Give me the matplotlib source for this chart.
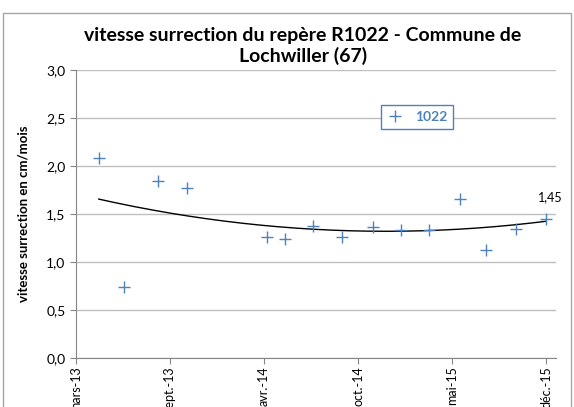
import numpy as np
import pandas as pd
import matplotlib
matplotlib.use('Agg')
from matplotlib import pyplot as plt
from matplotlib.patches import Rectangle
from matplotlib.ticker import FixedLocator, FuncFormatter
import matplotlib.dates as mdates

plt.rcParams['font.family'] = ['Lato', 'DejaVu Sans']

dates = pd.to_datetime(['2013-05-03', '2013-06-25', '2013-09-04', '2013-11-04',
                        '2014-04-22', '2014-05-31', '2014-07-29', '2014-09-28',
                        '2014-12-01', '2015-01-30', '2015-03-29', '2015-06-02',
                        '2015-07-28', '2015-09-28', '2015-12-01'])
speeds = [2.08, 0.74, 1.84, 1.77, 1.26, 1.24, 1.37, 1.26,
          1.36, 1.33, 1.33, 1.66, 1.13, 1.34, 1.45]
tick_labels = ['mars-13', 'sept.-13', 'avr.-14', 'oct.-14', 'mai-15', 'déc.-15']
y_ticks = [0.0, 0.5, 1.0, 1.5, 2.0, 2.5, 3.0]

blue = '#4F81BD'
grid_grey = '#BFBFBF'

x = mdates.date2num(dates)
axis_start = mdates.date2num(pd.Timestamp('2013-03-16'))
step = 198
tick_pos = [axis_start + i * step for i in range(len(tick_labels))]

fig = plt.figure(figsize=(5.74, 4.07), dpi=100)
fig.patches.append(Rectangle((3 / 574, -0.01), 568 / 574, 1 - 13 / 407 + 0.01,
                             transform=fig.transFigure, fill=False,
                             edgecolor='#A6A6A6', linewidth=1))
ax = fig.add_axes([76 / 574, 1 - 358 / 407, (556 - 76) / 574, (358 - 70) / 407])

ax.plot(x, speeds, linestyle='none', marker='+', color=blue,
        markersize=8, markeredgewidth=1, label='1022', zorder=3)

# polynomial trend line (order 2) as in the spreadsheet
coef = np.polyfit(x - x[0], speeds, 2)
xs = np.linspace(x[0], x[-1], 200)
ax.plot(xs, np.polyval(coef, xs - x[0]), color='black', linewidth=1, zorder=2)

ax.annotate('1,45', (x[-1], speeds[-1]), xytext=(-6, 11), textcoords='offset points',
            fontsize=9, ha='left', va='bottom')

ax.set_ylim(0, 3)
ax.set_xlim(axis_start, axis_start + 5 * step + 21)
ax.yaxis.set_major_locator(FixedLocator(y_ticks))
ax.yaxis.set_major_formatter(FuncFormatter(lambda v, p: f'{v:.1f}'.replace('.', ',')))
ax.set_xticks(tick_pos)
ax.set_xticklabels(tick_labels, rotation=90, fontsize=9)
ax.tick_params(axis='y', labelsize=10, length=4, color='#868686')
ax.tick_params(axis='x', length=4, pad=2, color='#868686')

ax.grid(axis='y', color=grid_grey, linewidth=1)
ax.set_axisbelow(True)
for side in ['top', 'right']:
    ax.spines[side].set_visible(False)
for side in ['left', 'bottom']:
    ax.spines[side].set_color('#868686')

ax.set_ylabel('vitesse surrection en cm/mois', fontsize=9.5, fontweight='bold', labelpad=12)
fig.text(303 / 574, 1 - 46 / 407,
         'vitesse surrection du repère R1022 - Commune de\nLochwiller (67)',
         ha='center', va='center', fontsize=14, fontweight='bold', linespacing=1.25)

leg = ax.legend(loc='center', bbox_to_anchor=(417 / 574, 1 - 117 / 407),
                bbox_transform=fig.transFigure, fancybox=False, framealpha=1,
                handlelength=1.2, handletextpad=0.8, borderpad=0.45, fontsize=10)
leg.get_frame().set_edgecolor(blue)
leg.get_frame().set_linewidth(1)
for t in leg.get_texts():
    t.set_color(blue)
    t.set_fontweight('bold')

fig.savefig('out.png', dpi=100)
